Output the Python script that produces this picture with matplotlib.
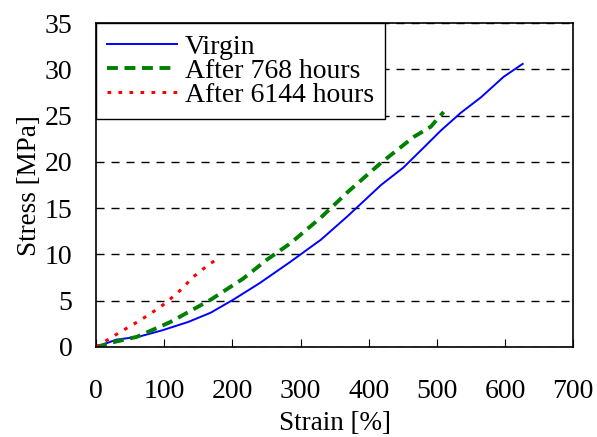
import matplotlib.pyplot as plt

plt.rcParams['font.family'] = ['Liberation Serif', 'DejaVu Serif']

# Virgin
strain_virgin = [0, 30, 62, 97, 135, 168, 201, 240, 285, 330, 370, 418, 451, 480, 506, 535, 565, 598, 626]
stress_virgin = [0, 0.8, 1.1, 1.8, 2.7, 3.7, 5.1, 6.9, 9.2, 11.6, 14.2, 17.5, 19.4, 21.5, 23.4, 25.3, 27.0, 29.2, 30.6]

# After 768 hours
strain_768 = [0, 30, 60, 109, 168, 216, 250, 285, 330, 370, 418, 466, 491, 510]
stress_768 = [0, 0.6, 1.1, 2.7, 5.1, 7.4, 9.4, 11.2, 14.0, 16.8, 19.9, 22.7, 23.8, 25.4]

# After 6144 hours
strain_6144 = [0, 35, 65, 94, 119, 143, 165, 180]
stress_6144 = [0, 1.6, 2.9, 4.3, 5.8, 7.6, 8.9, 9.6]

fig, ax = plt.subplots(figsize=(5.97, 4.37), dpi=100)
fig.subplots_adjust(left=0.161, right=0.960, top=0.947, bottom=0.206)

ax.plot(strain_virgin, stress_virgin, color='blue', lw=1.4, label='Virgin')
ax.plot(strain_768, stress_768, color='green', lw=2.8, ls=(0, (2.8, 1.7)), label='After 768 hours')
ax.plot(strain_6144, stress_6144, color='red', lw=2.2, ls=(0, (1.2, 2.4)), label='After 6144 hours')

ax.set_xlim(0, 700)
ax.set_ylim(0, 35)
ax.set_xticks(range(0, 701, 100))
ax.set_yticks(range(0, 36, 5))
ax.yaxis.grid(True, color='black', ls=(0, (5.8, 5)), lw=1)
ax.tick_params(axis='x', labelsize=20, direction='in', length=6, pad=23)
ax.tick_params(axis='y', labelsize=20, length=0, pad=17)
for s in ax.spines.values():
    s.set_linewidth(1.2)
ax.set_xlabel('Strain [%]', fontsize=19.5, labelpad=5)
ax.set_ylabel('Stress [MPa]', fontsize=19.5, labelpad=2)

leg = ax.legend(loc='upper left', fontsize=20, fancybox=False, edgecolor='black',
                borderaxespad=0, handlelength=2.5, labelspacing=-0.05, borderpad=0.4,
                handletextpad=0.3, framealpha=1)
leg.get_frame().set_linewidth(1)

plt.savefig('out.png')
